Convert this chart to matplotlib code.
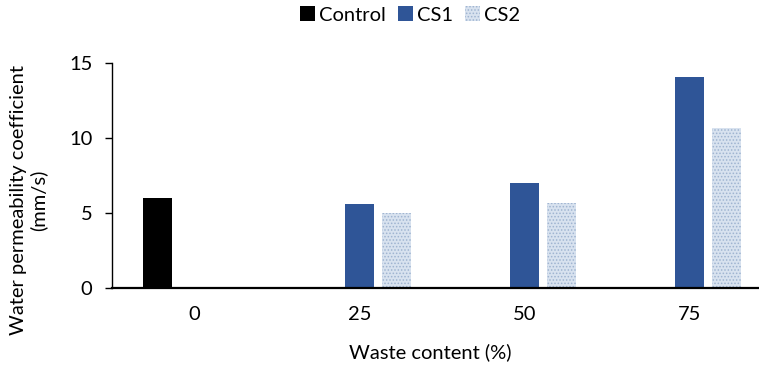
import numpy as np
import matplotlib
matplotlib.use("Agg")
from matplotlib import pyplot as plt

# data
categories = ["0", "25", "50", "75"]
control = [6.0, 0, 0, 0]
cs1 = [0, 5.6, 7.0, 14.1]
cs2 = [0, 5.0, 5.65, 10.65]

plt.rcParams['font.family'] = ['Lato', 'DejaVu Sans']
plt.rcParams['hatch.color'] = '#9fb4d0'
plt.rcParams['hatch.linewidth'] = 0.7

fs = 14.5
fig = plt.figure(figsize=(7.59, 3.65), dpi=100)
ax = fig.add_axes([112/759, 1-288/365, (772-112)/759, (288-63)/365])

x = np.arange(len(categories))
w = 0.175
off = 0.222
ax.bar(x - off, control, w, color='black', label='Control')
ax.bar(x, cs1, w, color='#2f5597', label='CS1')
ax.bar(x + off, cs2, w, color='#d8e2ef', hatch='.....', linewidth=0, label='CS2')

ax.set_xlim(-0.5, 3.5)
ax.set_ylim(0, 15)
ax.set_yticks([0, 5, 10, 15])
ax.set_xticks(x)
ax.set_xticklabels(categories)
ax.tick_params(axis='x', length=0, pad=13, labelsize=fs)
ax.tick_params(axis='y', length=5, width=1, pad=9, labelsize=fs)
for s in ['top', 'right']:
    ax.spines[s].set_visible(False)
ax.spines['left'].set_linewidth(1)
ax.spines['bottom'].set_linewidth(1.6)

fig.text(0.038, 1-200/365, 'Water permeability coefficient\n(mm/s)', rotation=90,
         ha='center', va='center', fontsize=fs, linespacing=1.15)
fig.text(430/759, 1-352/365, 'Waste content (%)', ha='center', va='center', fontsize=fs)

fig.legend(loc='center', bbox_to_anchor=(410/759, 1-15/365), ncol=3, frameon=False,
           fontsize=fs, handlelength=0.75, handleheight=0.75, handletextpad=0.2,
           columnspacing=0.6, borderpad=0.2)

fig.savefig('out.png', dpi=100)
